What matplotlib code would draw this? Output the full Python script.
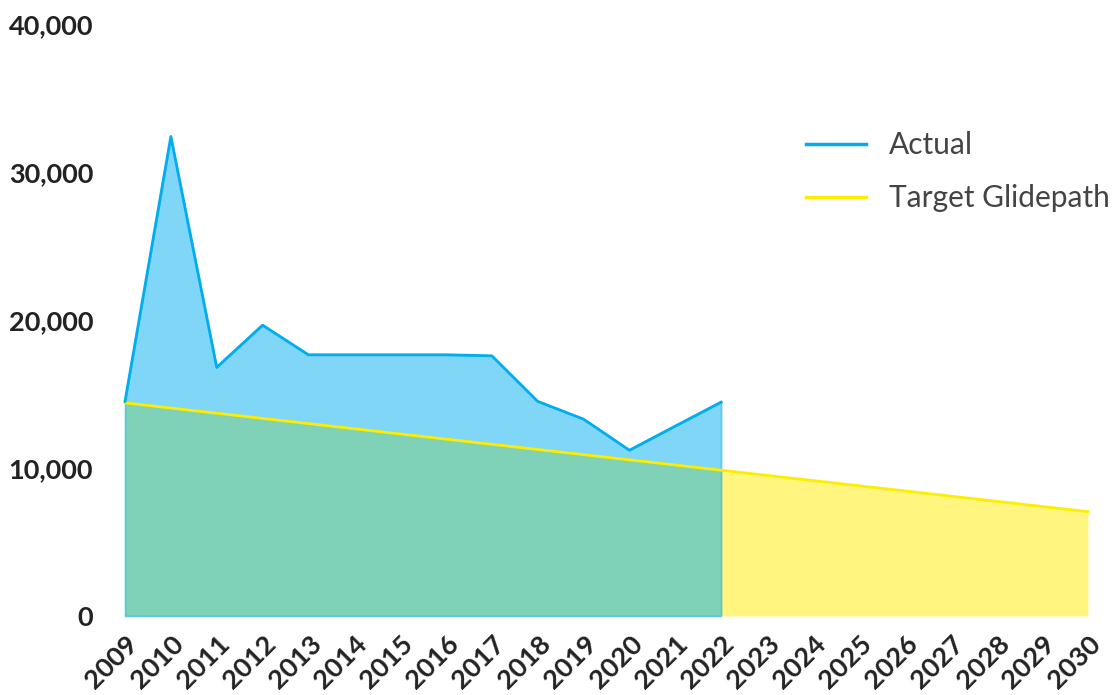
import matplotlib
matplotlib.use("Agg")
from matplotlib import pyplot as plt
from matplotlib.ticker import FuncFormatter
import matplotlib.transforms as mtransforms

plt.rcParams['font.family'] = ['Lato', 'DejaVu Sans']

# ----------
# Data

years = list(range(2009, 2031))
actual_years = list(range(2009, 2023))
actual = [14500, 32400, 16800, 19650, 17650, 17650, 17650, 17650, 17580,
          14500, 13300, 11200, 12830, 14450]
target = [14400, 14050, 13700, 13350, 13000, 12650, 12300, 11950, 11600,
          11250, 10900, 10550, 10200, 9850, 9500, 9150, 8800, 8450, 8100,
          7750, 7400, 7050]
y_ticks = [0, 10000, 20000, 30000, 40000]

blue = '#00AEEF'
yellow = '#FFED00'

# ----------
# Plot

fig = plt.figure(figsize=(11.2, 6.95), dpi=100)
ax = fig.add_axes([0.1116, 0.1137, 0.9714 - 0.1116, 0.9655 - 0.1137])

ax.fill_between(years, target, color=yellow, alpha=0.5, lw=0)
ax.plot(years, target, color=yellow, lw=2, clip_on=False, label='Target Glidepath')
ax.fill_between(actual_years, actual, facecolor=blue, edgecolor=blue,
                alpha=0.5, lw=1.2, clip_on=False)
ax.plot(actual_years, actual, color=blue, lw=2, clip_on=False, label='Actual')

ax.set_xlim(2009, 2030)
ax.set_ylim(0, 40000)
ax.set_yticks(y_ticks)
ax.yaxis.set_major_formatter(FuncFormatter(lambda v, p: f'{int(v):,}'))
ax.set_xticks(years)
ax.set_xticklabels([str(y) for y in years], rotation=45, ha='right',
                   rotation_mode='anchor', va='center')

for s in ax.spines.values():
    s.set_visible(False)
ax.tick_params(length=0)
ax.tick_params(axis='y', pad=23, labelsize=19.5, labelcolor='#222222')
ax.tick_params(axis='x', pad=17, labelsize=19.5, labelcolor='#222222')
for lab in ax.get_yticklabels() + ax.get_xticklabels():
    lab.set_fontweight('bold')
offset = mtransforms.ScaledTranslation(9 / 100, 0, fig.dpi_scale_trans)
for lab in ax.get_xticklabels():
    lab.set_transform(lab.get_transform() + offset)

handles, labels = ax.get_legend_handles_labels()
leg = fig.legend(handles[::-1], labels[::-1], loc='upper left',
                 bbox_to_anchor=(0.72, 0.8115), frameon=False,
                 prop={'family': 'Lato', 'weight': 'normal', 'size': 21.5},
                 handlelength=2.0, handletextpad=0.75, labelspacing=0.85,
                 borderpad=0, borderaxespad=0)
for t in leg.get_texts():
    t.set_color('#444444')
for l in leg.get_lines():
    l.set_linewidth(2.5)

fig.savefig('out.png', dpi=100)
